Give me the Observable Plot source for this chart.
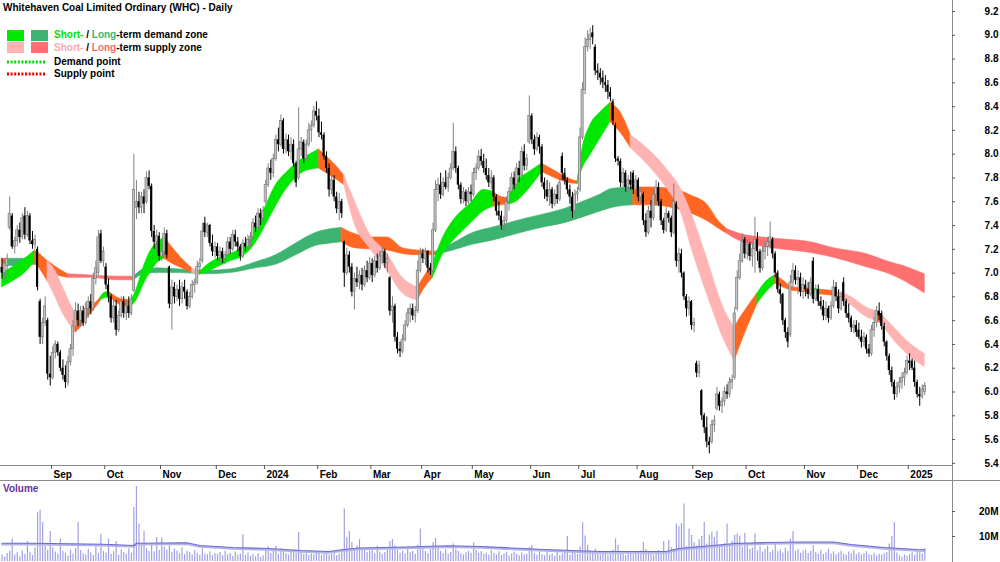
<!DOCTYPE html>
<html>
<head>
<meta charset="utf-8">
<script src="https://cdn.jsdelivr.net/npm/d3@7"></script>
<script src="https://cdn.jsdelivr.net/npm/@observablehq/plot@0.6"></script>
<style>
html,body{margin:0;padding:0;background:#fff;}
#wrap{position:relative;width:1000px;height:562px;overflow:hidden;font-family:"Liberation Sans",Arial,sans-serif;font-weight:bold;font-size:10px;color:#000;}
#price,#vol{position:absolute;left:0;}
#price{top:0;} #vol{top:481px;}
#sep{position:absolute;left:0;top:480px;width:1000px;height:1px;background:#8c8c8c;}
.t{position:absolute;white-space:nowrap;line-height:12px;}
.sw{position:absolute;width:17px;height:11px;}
svg{overflow:visible;}
</style>
</head>
<body>
<div id="wrap">
  <div id="price"></div>
  <div id="vol"></div>
  <div id="sep"></div>
  <div class="t" style="left:3px;top:2px;">Whitehaven Coal Limited Ordinary (WHC) - Daily</div>
  <div class="sw" style="left:7px;top:30px;background:#00e800;"></div>
  <div class="sw" style="left:31px;top:30px;background:#3cb371;"></div>
  <div class="t" style="left:54px;top:29px;"><span style="color:#00e000">Short-</span> / <span style="color:#3cb371">Long</span>-term demand zone</div>
  <div class="sw" style="left:7px;top:42px;background:#ffb4b4;"></div>
  <div class="sw" style="left:31px;top:42px;background:#ff7070;"></div>
  <div class="t" style="left:54px;top:42px;"><span style="color:#ffa8a8">Short-</span> / <span style="color:#ff6b6b">Long</span>-term supply zone</div>
  <svg style="position:absolute;left:7px;top:60px;" width="38" height="4"><line x1="0" y1="2" x2="38" y2="2" stroke="#00dd00" stroke-width="3" stroke-dasharray="2 1.6"/></svg>
  <div class="t" style="left:54px;top:56px;">Demand point</div>
  <svg style="position:absolute;left:7px;top:72px;" width="38" height="4"><line x1="0" y1="2" x2="38" y2="2" stroke="#ee0000" stroke-width="3" stroke-dasharray="2 1.6"/></svg>
  <div class="t" style="left:54px;top:68px;">Supply point</div>
  <div class="t" style="left:3px;top:483px;color:#663399;">Volume</div>
</div>
<script>
// ---------- data (trading-day index 0 = early Aug 2023) ----------
const monthLabels = ["Sep","Oct","Nov","Dec","2024","Feb","Mar","Apr","May","Jun","Jul","Aug","Sep","Oct","Nov","Dec","2025"];
const monthStart  = [20,41,63,85,104,125,146,166,186,209,228,251,273,294,317,338,358];
const priceTicks = [5.4,5.6,5.8,6.0,6.2,6.4,6.6,6.8,7.0,7.2,7.4,7.6,7.8,8.0,8.2,8.4,8.6,8.8,9.0,9.2];
const volTicks = [10,20];

const open = [
7.05,7.00,7.06,7.38,7.48,7.22,7.27,7.36,7.30,7.48, 7.32,7.48,7.27,7.24,7.20,6.76,6.46,6.58,6.60,6.15,
6.12,6.33,6.40,6.33,6.20,6.14,6.08,6.25,6.36,6.55, 6.68,6.60,6.68,6.58,6.70,6.76,6.70,6.95,7.00,7.33,
7.10,7.05,6.90,6.80,6.62,6.72,6.52,6.64,6.76,6.66, 6.72,6.66,6.85,7.55,7.60,7.55,7.64,7.60,7.80,7.73,
7.35,7.26,7.31,7.14,7.18,7.33,7.05,6.74,6.88,6.80, 6.86,6.78,6.88,6.84,6.72,6.80,6.90,6.92,7.05,7.10,
7.42,7.34,7.40,7.25,7.18,7.22,7.14,7.18,7.12,7.15, 7.26,7.20,7.32,7.26,7.22,7.14,7.25,7.22,7.28,7.30,
7.42,7.38,7.50,7.46,7.60,7.74,7.88,7.84,7.96,8.12, 8.08,8.28,8.04,8.12,8.02,8.08,7.92,7.80,8.04,8.10,
7.96,8.08,8.20,8.24,8.36,8.32,8.18,8.16,7.98,7.88, 7.70,7.78,7.64,7.54,7.60,7.26,7.00,7.15,7.05,6.84,
6.95,6.92,6.98,6.90,7.02,6.96,7.08,6.98,7.10,7.04, 7.14,7.18,7.08,6.96,6.68,6.72,6.46,6.36,6.34,6.44,
6.56,6.66,6.70,6.64,6.68,7.02,7.16,7.12,7.18,7.04, 7.02,7.36,7.70,7.74,7.66,7.76,7.72,7.80,7.88,8.02,
7.88,7.74,7.62,7.68,7.60,7.68,7.66,7.84,7.88,7.98, 7.94,7.88,7.82,7.76,7.80,7.64,7.52,7.48,7.40,7.44,
7.60,7.68,7.80,7.74,7.88,7.82,8.02,7.90,8.10,8.32, 8.12,8.04,8.14,8.06,7.76,7.70,7.64,7.70,7.58,7.66,
7.62,7.98,7.84,7.78,7.70,7.64,7.52,7.66,7.70,8.14, 8.54,8.90,8.96,9.02,8.90,8.70,8.68,8.64,8.60,8.58,
8.52,8.44,8.24,7.96,7.94,7.76,7.84,7.72,7.78,7.84, 7.70,7.78,7.64,7.66,7.44,7.34,7.52,7.46,7.66,7.72,
7.60,7.44,7.36,7.50,7.46,7.34,7.58,7.10,7.16,7.00, 6.80,6.70,6.76,6.56,6.24,6.16,6.01,5.80,5.70,5.58,
5.58,5.72,5.86,5.98,5.88,5.92,6.00,5.98,6.08,6.12, 6.70,6.96,7.10,7.28,7.16,7.24,7.14,7.20,7.28,7.18,
7.04,7.18,7.22,7.26,7.28,7.16,7.00,6.86,6.82,6.60, 6.50,6.48,6.92,7.02,6.94,6.96,6.84,6.90,6.86,6.82,
7.10,6.78,6.86,6.76,6.72,6.64,6.70,6.62,6.72,6.88, 6.80,6.70,6.92,6.76,6.66,6.62,6.54,6.56,6.52,6.46,
6.42,6.46,6.36,6.32,6.52,6.58,6.68,6.66,6.55,6.42, 6.30,6.18,6.08,5.98,6.04,6.08,6.12,6.16,6.26,6.26,
6.20,6.08,5.98,5.96,6.00];
const high = [
7.12,7.10,7.16,7.64,7.50,7.30,7.40,7.42,7.50,7.55, 7.52,7.50,7.35,7.32,7.22,6.78,6.62,6.80,6.62,6.30,
6.38,6.43,6.42,6.35,6.27,6.22,6.30,6.40,6.60,6.75, 6.74,6.72,6.72,6.75,6.80,6.82,7.00,7.10,7.36,7.36,
7.22,7.08,6.95,6.82,6.78,6.77,6.68,6.80,6.80,6.78, 6.80,6.82,8.00,7.78,7.68,7.68,7.70,7.85,7.86,7.75,
7.40,7.36,7.34,7.20,7.38,7.36,7.06,6.94,6.92,6.90, 6.94,6.92,6.94,6.86,6.84,6.94,6.95,7.10,7.12,7.42,
7.47,7.42,7.41,7.32,7.26,7.25,7.22,7.21,7.18,7.30, 7.30,7.36,7.36,7.30,7.24,7.28,7.30,7.32,7.34,7.46,
7.48,7.54,7.54,7.56,7.78,7.92,7.95,8.00,8.16,8.22, 8.33,8.30,8.17,8.16,8.14,8.12,7.94,8.39,8.14,8.12,
8.12,8.26,8.28,8.40,8.44,8.38,8.27,8.18,8.02,7.92, 7.84,7.82,7.68,7.67,7.62,7.27,7.21,7.18,7.08,7.00,
7.05,7.02,7.04,7.06,7.10,7.13,7.12,7.14,7.16,7.18, 7.22,7.20,7.16,6.97,6.80,6.74,6.50,6.42,6.48,6.60,
6.70,6.74,6.74,6.72,7.10,7.21,7.20,7.21,7.19,7.08, 7.42,7.78,7.80,7.84,7.80,7.86,7.84,7.92,8.26,8.06,
7.90,7.76,7.72,7.70,7.72,7.74,7.88,7.92,8.03,8.04, 8.00,7.96,7.88,7.86,7.82,7.66,7.60,7.52,7.48,7.64,
7.72,7.84,7.85,7.92,7.94,8.06,8.08,8.00,8.49,8.34, 8.16,8.18,8.16,8.08,7.80,7.78,7.76,7.72,7.70,7.74,
7.80,8.01,7.88,7.80,7.74,7.68,7.70,7.72,8.22,8.60, 8.98,9.04,9.06,9.08,8.92,8.76,8.72,8.70,8.66,8.62,
8.56,8.46,8.26,7.98,7.96,7.88,7.86,7.82,7.85,7.86, 7.82,7.80,7.72,7.68,7.50,7.56,7.61,7.70,7.78,7.76,
7.62,7.46,7.55,7.52,7.48,7.75,7.60,7.21,7.20,7.01, 6.82,6.80,6.77,6.62,6.26,6.26,6.02,5.82,5.79,5.62,
5.76,5.80,6.04,6.00,5.95,6.04,6.06,6.12,6.14,6.71, 7.02,7.16,7.33,7.30,7.28,7.26,7.25,7.47,7.34,7.20,
7.22,7.27,7.30,7.43,7.30,7.18,7.02,6.91,6.83,6.62, 6.54,6.98,7.08,7.06,7.02,7.00,6.96,6.94,6.92,6.96,
7.13,6.90,6.90,6.80,6.77,6.76,6.72,6.76,6.94,6.92, 6.86,6.84,6.96,6.78,6.74,6.64,6.60,6.60,6.58,6.52,
6.50,6.48,6.40,6.56,6.63,6.72,6.75,6.68,6.58,6.43, 6.32,6.21,6.10,6.08,6.12,6.16,6.20,6.30,6.32,6.28,
6.26,6.10,6.04,6.06,6.08];
const low = [
6.95,6.94,6.98,7.36,7.20,7.16,7.22,7.25,7.28,7.28, 7.30,7.24,7.20,7.20,6.85,6.40,6.40,6.55,6.10,6.05,
6.10,6.28,6.30,6.17,6.10,6.03,6.05,6.22,6.30,6.50, 6.55,6.55,6.55,6.56,6.62,6.65,6.68,6.90,6.98,7.08,
7.05,6.86,6.75,6.58,6.58,6.47,6.50,6.62,6.62,6.60, 6.62,6.64,6.84,7.45,7.50,7.50,7.50,7.58,7.70,7.30,
7.20,7.18,7.10,7.10,7.14,7.12,6.70,6.52,6.74,6.76, 6.72,6.74,6.78,6.69,6.70,6.78,6.83,6.90,6.98,7.08,
7.30,7.30,7.22,7.14,7.12,7.10,7.08,7.08,7.07,7.14, 7.16,7.18,7.22,7.18,7.10,7.12,7.18,7.20,7.22,7.28,
7.34,7.36,7.40,7.42,7.58,7.72,7.78,7.80,7.94,8.02, 8.06,8.00,8.00,7.98,7.95,7.89,7.72,7.78,7.98,7.92,
7.94,8.06,8.10,8.22,8.28,8.14,8.12,7.95,7.84,7.64, 7.66,7.60,7.50,7.44,7.46,6.88,6.98,7.00,6.80,6.69,
6.88,6.86,6.85,6.88,6.92,6.94,6.92,6.96,7.00,7.02, 7.08,7.04,7.00,6.64,6.58,6.42,6.32,6.29,6.32,6.42,
6.54,6.58,6.60,6.58,6.66,7.00,7.08,7.06,7.00,6.98, 7.00,7.34,7.60,7.62,7.64,7.70,7.68,7.78,7.86,7.84,
7.70,7.58,7.58,7.56,7.58,7.60,7.64,7.78,7.86,7.90, 7.84,7.78,7.72,7.70,7.60,7.48,7.44,7.36,7.34,7.42,
7.52,7.66,7.70,7.72,7.76,7.80,7.86,7.86,8.08,8.08, 7.99,8.02,8.00,7.72,7.62,7.60,7.56,7.54,7.56,7.58,
7.60,7.78,7.74,7.66,7.58,7.46,7.50,7.60,7.68,8.12, 8.50,8.86,8.88,8.92,8.66,8.62,8.58,8.55,8.52,8.46,
8.44,8.24,7.93,7.90,7.72,7.72,7.68,7.68,7.70,7.66, 7.62,7.60,7.58,7.40,7.30,7.32,7.38,7.44,7.56,7.56,
7.40,7.33,7.34,7.42,7.30,7.32,7.05,7.00,6.96,6.77, 6.63,6.64,6.52,6.50,6.12,6.12,5.76,5.65,5.53,5.48,
5.56,5.66,5.84,5.84,5.82,5.88,5.94,5.95,6.02,6.10, 6.68,6.94,7.08,7.12,7.11,7.10,7.05,7.00,7.10,7.00,
7.02,7.11,7.14,7.20,7.12,6.96,6.83,6.74,6.56,6.45, 6.37,6.46,6.88,6.90,6.82,6.80,6.78,6.80,6.78,6.80,
6.74,6.76,6.72,6.69,6.60,6.60,6.58,6.60,6.70,6.76, 6.66,6.68,6.72,6.62,6.58,6.50,6.49,6.46,6.44,6.37,
6.38,6.32,6.29,6.30,6.46,6.54,6.60,6.52,6.38,6.26, 6.14,6.04,5.93,5.95,5.99,6.02,6.05,6.14,6.18,6.18,
6.04,5.95,5.88,5.94,5.97];
const close = [
7.00,7.08,7.12,7.50,7.22,7.27,7.36,7.30,7.46,7.32, 7.48,7.27,7.24,7.28,6.88,6.46,6.58,6.72,6.15,6.12,
6.33,6.40,6.33,6.20,6.14,6.08,6.25,6.36,6.55,6.68, 6.60,6.68,6.58,6.70,6.76,6.70,6.95,7.04,7.30,7.10,
7.18,6.90,6.80,6.62,6.72,6.52,6.64,6.76,6.66,6.72, 6.66,6.78,7.70,7.60,7.55,7.64,7.58,7.80,7.73,7.35,
7.26,7.31,7.14,7.18,7.33,7.15,6.74,6.88,6.80,6.86, 6.78,6.88,6.84,6.72,6.80,6.90,6.92,7.05,7.08,7.35,
7.34,7.40,7.25,7.18,7.22,7.14,7.18,7.12,7.15,7.26, 7.20,7.32,7.26,7.22,7.14,7.25,7.22,7.28,7.30,7.42,
7.38,7.50,7.46,7.52,7.74,7.88,7.84,7.96,8.12,8.08, 8.28,8.04,8.12,8.02,8.08,7.92,7.76,8.04,8.10,7.96,
8.08,8.20,8.24,8.36,8.32,8.18,8.16,7.98,7.88,7.70, 7.78,7.64,7.54,7.60,7.50,7.00,7.15,7.05,6.84,6.95,
6.92,6.98,6.90,7.02,6.96,7.08,6.98,7.10,7.04,7.14, 7.18,7.08,7.12,6.68,6.72,6.46,6.36,6.34,6.44,6.56,
6.66,6.70,6.64,6.68,7.02,7.16,7.12,7.18,7.04,7.02, 7.36,7.70,7.74,7.66,7.76,7.72,7.80,7.88,8.02,7.88,
7.74,7.62,7.68,7.60,7.68,7.66,7.84,7.88,7.98,7.94, 7.88,7.82,7.76,7.80,7.64,7.52,7.48,7.40,7.44,7.60,
7.68,7.80,7.74,7.88,7.82,8.02,7.90,7.96,8.32,8.12, 8.04,8.14,8.06,7.76,7.70,7.64,7.70,7.58,7.66,7.62,
7.76,7.84,7.78,7.70,7.64,7.52,7.66,7.68,8.14,8.54, 8.90,8.96,9.00,8.98,8.70,8.68,8.64,8.60,8.58,8.52,
8.48,8.28,7.96,7.94,7.76,7.84,7.72,7.78,7.74,7.70, 7.78,7.64,7.68,7.44,7.34,7.52,7.46,7.66,7.72,7.60,
7.44,7.36,7.50,7.46,7.34,7.60,7.10,7.16,7.00,6.80, 6.70,6.76,6.56,6.58,6.16,6.22,5.80,5.70,5.58,5.55,
5.72,5.76,5.98,5.88,5.92,6.00,5.98,6.08,6.10,6.66, 6.96,7.10,7.26,7.16,7.24,7.14,7.20,7.28,7.18,7.04,
7.18,7.22,7.26,7.30,7.16,7.00,6.86,6.82,6.60,6.50, 6.42,6.92,7.02,6.94,6.96,6.84,6.90,6.86,6.82,6.92,
6.78,6.86,6.76,6.72,6.64,6.70,6.62,6.72,6.88,6.80, 6.70,6.80,6.76,6.66,6.62,6.54,6.56,6.50,6.46,6.42,
6.46,6.36,6.32,6.52,6.58,6.68,6.64,6.55,6.42,6.30, 6.18,6.08,5.98,6.04,6.08,6.12,6.16,6.26,6.24,6.20,
6.08,5.98,5.96,6.02,6.05];
// volume in millions, one value per trading day
const volume = [
2.5,1.8,3.2,4.0,9.0,2.6,3.5,1.9,4.2,2.8, 8.0,3.6,2.4,5.5,19.5,20.5,15.6,6.0,4.5,12.0,
5.5,3.8,2.9,9.0,4.1,3.3,2.2,4.6,3.0,5.2, 15.6,4.4,3.1,2.6,4.9,3.5,2.4,5.8,3.2,10.8, 4.0,
3.4,9.0,2.8,3.9,8.0,2.5,4.7,3.6,2.9,5.1, 3.3,21.6,30.0,15.0,6.5,12.0,5.2,4.1,6.8,3.9, 9.6,4.4,
9.4,5.8,4.6,6.2,3.5,5.0,4.2,3.1,5.5,2.8, 4.0,3.6,2.6,4.4,3.3,2.5,5.1,3.0,2.7,3.9, 2.4,3.2,
2.9,3.6,2.2,4.1,2.7,3.3,2.0,3.8,2.6,3.0, 10.8,2.5,3.4,2.1,2.8,1.9,3.1,1.6,2.3,
4.8,5.9,3.2,4.5,6.0,2.9,5.2,4.4,3.1,2.6, 3.9,4.6,3.3,11.6,4.0,2.8,3.5,2.4,3.0,2.7, 3.6,
3.2,2.5,3.7,4.1,2.6,2.9,3.4,2.3,3.0,4.4, 21.0,9.5,12.0,7.6,5.2,6.3,8.8,4.5,5.0,3.6, 4.2,
4.4,3.1,6.0,3.8,2.9,3.6,4.5,8.0,8.8,6.2, 4.4,3.3,4.2,3.0,5.1,3.5,4.0,2.8,6.5,13.0,
5.6,4.0,3.1,4.9,7.5,9.2,5.5,4.1,3.2,4.8, 2.9,3.6,7.0,4.7,4.0,3.0,2.6,3.5,4.1,3.3,
7.4,4.6,3.3,4.0,2.8,3.4,2.5,4.3,3.2,2.6, 3.9,2.4,3.1,3.7,2.2,3.0,3.8,2.9,2.3,3.4, 2.6,2.9,5.5,
6.4,3.1,2.5,3.9,2.7,2.3,3.5,2.6,3.0,2.1, 3.6,2.4,3.1,3.8,10.0,2.6,3.3,4.0,2.8,
5.8,15.5,10.2,6.5,4.2,3.6,5.0,3.1,2.7,3.4, 4.0,2.6,3.0,4.6,9.0,6.5,3.7,3.1,2.4,3.2, 3.9,2.7,3.3,
3.6,4.2,7.6,4.8,3.5,3.1,2.6,3.7,4.4,3.0, 8.0,3.8,8.4,5.5,4.6,15.0,14.0,15.2,23.0,6.0, 13.0,10.5,
7.5,6.2,8.8,10.0,15.6,7.0,10.5,11.8,9.6,12.0, 6.4,5.5,7.2,15.0,6.8,8.0,10.5,11.0,10.2,5.8, 11.2,
6.5,4.8,5.4,11.0,4.2,5.9,3.8,4.9,6.1,3.5, 4.3,6.8,3.9,4.6,3.4,5.3,4.1,9.0,12.0,4.0, 4.7,3.3,4.2,
4.6,3.2,4.1,6.3,3.6,2.9,4.4,2.8,3.5,4.9, 3.0,3.9,2.6,3.4,4.2,2.9,2.5,3.8,3.1,4.5, 2.7,
3.5,2.6,3.2,3.9,2.7,2.4,3.3,2.2,2.9,2.5, 3.1,3.6,7.0,10.0,15.6,3.4,2.3,1.8,2.6,2.1,
2.8,3.5,2.4,4.1,3.6,3.0,5.2];
// volume moving-average line, read at sample days
const volAvgIdx = [0,12,40,52,53,73,78,91,105,118,129,134,141,151,163,176,189,201,214,227,236,262,267,276,289,302,315,328,335,348,361,364];
const volAvgVal = [7.3,7.3,6.9,6.4,7.3,7.5,6.4,5.6,5.2,4.4,4.0,4.7,5.4,5.6,5.9,6.3,6.0,5.4,4.8,4.3,4.0,4.0,5.2,6.0,7.2,7.6,7.8,7.8,6.8,5.6,4.8,4.7];

// short-term zone edges (read at sample days) and zone colour following each sample
const sIdx = [0,5,9,13,16,18,21,24,27,29,31,34,37,39,41,43,47,51,53,56,59,62,64,67,71,75,78,80,85,90,95,100,104,108,112,116,120,125,128,131,135,139,145,152,158,164,166,170,174,178,185,190,194,197,200,202,208,213,218,223,227,229,232,236,240,244,248,256,262,268,272,278,285,289,290,294,298,302,305,308,312,317,319,323,328,335,341,345,347,352,357,364];
const sLo = [6.88,6.94,7.00,7.10,7.00,6.93,6.80,6.66,6.56,6.50,6.54,6.63,6.71,6.77,6.79,6.79,6.73,6.72,6.77,6.91,7.02,7.10,7.12,7.08,7.04,7.00,6.99,7.00,7.05,7.10,7.14,7.25,7.40,7.56,7.70,7.80,7.86,7.88,7.84,7.80,7.74,7.42,7.21,7.02,6.83,6.77,6.85,6.96,7.16,7.27,7.42,7.52,7.56,7.57,7.58,7.59,7.71,7.85,7.80,7.76,7.75,7.88,7.99,8.13,8.27,8.18,8.05,7.88,7.72,7.50,7.21,6.83,6.43,6.26,6.32,6.54,6.74,6.85,6.91,6.88,6.85,6.84,6.83,6.82,6.81,6.73,6.63,6.60,6.57,6.43,6.32,6.21];
const sHi = [7.00,7.06,7.12,7.19,7.14,7.10,7.02,6.88,6.74,6.66,6.66,6.71,6.75,6.80,6.84,6.83,6.78,6.77,6.86,7.06,7.20,7.27,7.30,7.22,7.12,7.04,7.01,7.05,7.12,7.16,7.22,7.38,7.56,7.74,7.84,7.92,7.98,8.04,7.98,7.92,7.82,7.61,7.33,7.16,6.96,6.88,6.95,7.08,7.30,7.44,7.59,7.70,7.68,7.64,7.63,7.74,7.85,7.92,7.86,7.80,7.77,8.05,8.24,8.35,8.43,8.35,8.16,8.02,7.88,7.70,7.50,7.13,6.69,6.54,6.58,6.71,6.83,6.94,6.98,6.94,6.88,6.87,6.87,6.86,6.85,6.80,6.71,6.68,6.65,6.54,6.43,6.32];
const sCol = ["G","G","G","O","O","P","P","P","P","O","O","O","O","G","G","O","O","G","G","G","G","G","O","O","O","P","G","G","G","G","G","G","G","G","G","G","G","O","O","O","P","P","P","P","P","O","O","G","G","G","G","G","O","O","G","G","G","O","O","O","G","G","G","G","O","O","P","P","P","P","P","P","P","O","O","O","G","G","O","O","O","O","G","O","P","P","P","O","P","P","P","P"];

// long-term zone
const lIdx = [0,2,8,13,18,22,26,35,45,52,56,62,70,80,90,100,108,116,124,130,134,139,145,152,158,164,171,178,186,193,200,207,215,222,228,235,241,249,256,266,272,278,283,286,291,304,319,328,341,349,357,364];
const lLo = [7.06,7.06,7.06,7.07,7.02,6.98,6.96,6.96,6.94,6.94,6.99,7.00,7.00,6.99,7.00,7.04,7.07,7.15,7.23,7.25,7.26,7.21,7.20,7.19,7.16,7.15,7.15,7.19,7.24,7.27,7.31,7.35,7.39,7.42,7.46,7.51,7.55,7.57,7.57,7.54,7.50,7.44,7.37,7.33,7.27,7.21,7.17,7.13,7.05,7.00,6.92,6.83];
const lHi = [7.12,7.12,7.12,7.13,7.10,7.04,6.99,6.98,6.97,6.97,7.03,7.04,7.03,7.02,7.03,7.09,7.15,7.25,7.34,7.37,7.38,7.33,7.30,7.30,7.21,7.19,7.18,7.25,7.34,7.38,7.42,7.46,7.50,7.54,7.59,7.65,7.71,7.72,7.72,7.70,7.65,7.58,7.43,7.37,7.33,7.29,7.26,7.21,7.16,7.10,7.05,6.99];
const lCol = ["O","D","D","O","O","O","R","R","R","D","D","D","D","D","D","D","D","D","D","D","O","O","O","O","O","O","D","D","D","D","D","D","D","D","D","D","D","O","O","O","O","O","O","R","R","R","R","R","R","R","R","R"];

const COLORS = {G:"#00e800", D:"#3cb371", P:"#ffb4b4", R:"#ff7070", O:"#ff6622"};

// ---------- scales ----------
const X_DOMAIN = [-0.62, 374.93];
const Y_DOMAIN = [5.382, 9.2925];
const PX_Y = 465 / (Y_DOMAIN[1] - Y_DOMAIN[0]);
const PX_X = 952 / (X_DOMAIN[1] - X_DOMAIN[0]);
const FONT = {fontFamily:"'Liberation Sans', Arial, sans-serif", fontSize:"10px", fontWeight:"bold", background:"transparent", overflow:"visible"};

function bandMarks(idx, lo, hi, col) {
  const segs = [];
  for (let k = 0; k < idx.length - 1; k++) {
    if (k === 0 || col[k] !== col[k - 1]) segs.push({c: col[k], rows: [{i: idx[k], lo: lo[k], hi: hi[k]}]});
    segs[segs.length - 1].rows.push({i: idx[k + 1], lo: lo[k + 1], hi: hi[k + 1]});
  }
  return segs.map(s => Plot.areaY(s.rows, {x: "i", y1: "lo", y2: "hi", fill: COLORS[s.c], stroke: COLORS[s.c], strokeWidth: 0.6, curve: "monotone-x"}));
}

const bars = close.map((c, i) => ({i, o: open[i], h: high[i], l: low[i], c}));
const upBars = bars.filter(d => d.c >= d.o);
const dnBars = bars.filter(d => d.c < d.o);
const W = 0.42;

const price = Plot.plot({
  width: 1000, height: 481,
  marginTop: 0, marginBottom: 16, marginLeft: 0, marginRight: 48,
  x: {domain: X_DOMAIN, axis: null},
  y: {domain: Y_DOMAIN, axis: null},
  style: FONT,
  marks: [
    ...bandMarks(lIdx, lLo, lHi, lCol),
    ...bandMarks(sIdx, sLo, sHi, sCol),
    Plot.ruleX(upBars, {x: "i", y1: "l", y2: "h", stroke: "#808080", strokeWidth: 1}),
    Plot.ruleX(dnBars, {x: "i", y1: "l", y2: "h", stroke: "#000", strokeWidth: 1}),
    Plot.rect(upBars, {x1: d => d.i - W, x2: d => d.i + W, y1: "o", y2: "c", fill: "#c4c4c4", stroke: "#7a7a7a", strokeWidth: 0.7}),
    Plot.rect(dnBars, {x1: d => d.i - W, x2: d => d.i + W, y1: "o", y2: "c", fill: "#000"}),
    Plot.ruleY([Y_DOMAIN[0]], {stroke: "#8c8c8c"}),
    Plot.ruleX([X_DOMAIN[1]], {y1: Y_DOMAIN[0] - 16 / PX_Y, y2: Y_DOMAIN[1], stroke: "#8c8c8c"}),
    Plot.ruleY(priceTicks, {y: d => d, x1: X_DOMAIN[1], x2: X_DOMAIN[1] + 3 / PX_X, stroke: "#555"}),
    Plot.text(priceTicks, {y: d => d, x: X_DOMAIN[1], dx: 46, text: d => d.toFixed(1), textAnchor: "end", fill: "#000"}),
    Plot.ruleX(monthStart, {x: d => d - 0.5, y1: Y_DOMAIN[0], y2: Y_DOMAIN[0] - 4 / PX_Y, stroke: "#555"}),
    Plot.text(monthStart, {x: d => d - 0.5, y: Y_DOMAIN[0] - 9 / PX_Y, text: (d, k) => monthLabels[k], textAnchor: "start", dx: 2, fill: "#000"})
  ]
});
document.getElementById("price").appendChild(price);

const volRows = volume.map((v, i) => ({i, v}));
const avgRows = volAvgIdx.map((i, k) => ({i, v: volAvgVal[k]}));
const V_DOMAIN = [-0.4, 32];
const vol = Plot.plot({
  width: 1000, height: 81,
  marginTop: 0, marginBottom: 0, marginLeft: 0, marginRight: 48,
  x: {domain: X_DOMAIN, axis: null},
  y: {domain: V_DOMAIN, axis: null},
  style: FONT,
  marks: [
    Plot.ruleX(volRows, {x: "i", y1: 0, y2: "v", stroke: "#a0a0e2", strokeWidth: 1.2}),
    Plot.line(avgRows, {x: "i", y: "v", stroke: "#b4b4e8", strokeWidth: 2.2, dy: 1.2}),
    Plot.line(avgRows, {x: "i", y: "v", stroke: "#6a6ad0", strokeWidth: 1.1}),
    Plot.ruleX([X_DOMAIN[1]], {stroke: "#8c8c8c"}),
    Plot.ruleY(volTicks, {y: d => d, x1: X_DOMAIN[1], x2: X_DOMAIN[1] + 3 / PX_X, stroke: "#555"}),
    Plot.text(volTicks, {y: d => d, x: X_DOMAIN[1], dx: 46, text: d => d + "M", textAnchor: "end", fill: "#000"})
  ]
});
document.getElementById("vol").appendChild(vol);
</script>
</body>
</html>
